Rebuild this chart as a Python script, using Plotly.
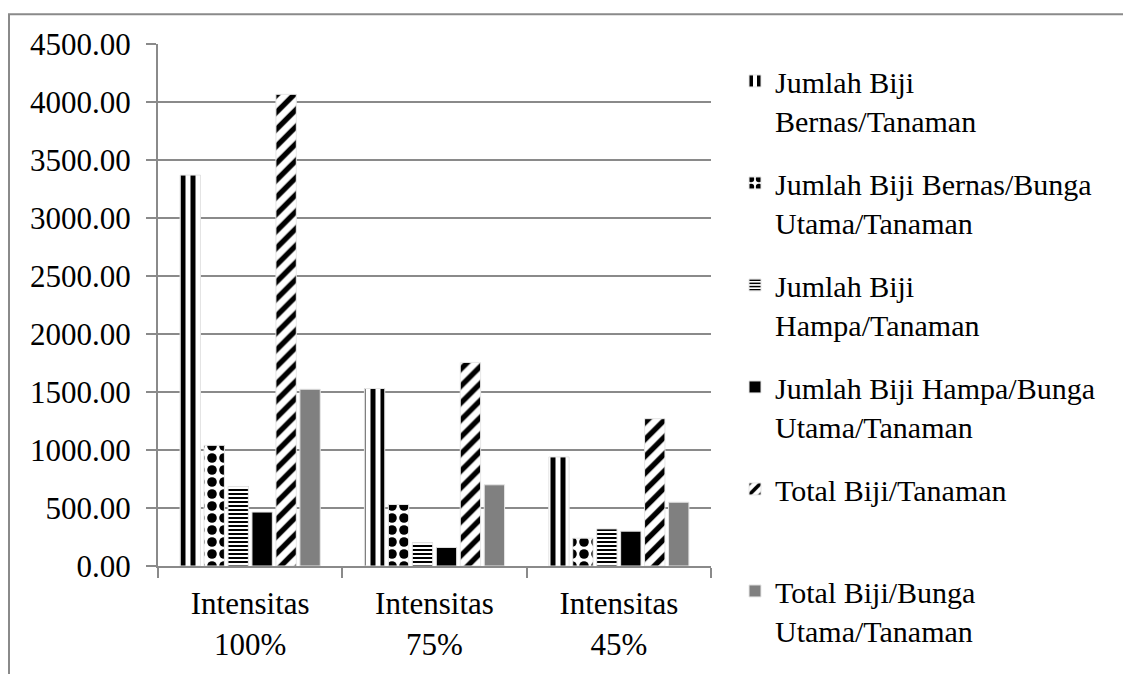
import plotly.graph_objects as go

categories = ["Intensitas<br>100%", "Intensitas<br>75%", "Intensitas<br>45%"]

series_names = [
    "Jumlah Biji<br>Bernas/Tanaman",
    "Jumlah Biji Bernas/Bunga<br>Utama/Tanaman",
    "Jumlah Biji<br>Hampa/Tanaman",
    "Jumlah Biji Hampa/Bunga<br>Utama/Tanaman",
    "Total Biji/Tanaman<br> ",
    "Total Biji/Bunga<br>Utama/Tanaman",
]

bernas_tanaman = [3370, 1530, 940]
bernas_bunga_utama = [1040, 530, 240]
hampa_tanaman = [685, 200, 320]
hampa_bunga_utama = [465, 160, 300]
total_tanaman = [4066, 1755, 1270]
total_bunga_utama = [1524, 700, 550]

values = [bernas_tanaman, bernas_bunga_utama, hampa_tanaman,
          hampa_bunga_utama, total_tanaman, total_bunga_utama]

styles = [
    dict(color="white", pattern=dict(shape="|", fgcolor="black", bgcolor="white", size=10, solidity=0.5, fillmode="replace")),
    dict(color="white", pattern=dict(shape=".", fgcolor="black", bgcolor="white", size=12, solidity=0.5, fillmode="replace")),
    dict(color="white", pattern=dict(shape="-", fgcolor="black", bgcolor="white", size=4, solidity=0.5, fillmode="replace")),
    dict(color="black"),
    dict(color="white", pattern=dict(shape="/", fgcolor="black", bgcolor="white", size=12, solidity=0.45, fillmode="replace")),
    dict(color="#808080"),
]

FONT = "Liberation Serif, Times New Roman, serif"
GRID = "#8a8a8a"

fig = go.Figure()
for i, (name, vals, st) in enumerate(zip(series_names, values, styles)):
    marker = dict(st)
    marker["line"] = dict(color="#e6e6e6", width=1)
    fig.add_trace(go.Bar(
        x=categories, y=vals, name=name, marker=marker,
        legendgroup=f"g{i}",
    ))

# page body has an 8px default margin, so the figure is sized/offset to compensate
fig.update_layout(
    width=1123, height=666,
    margin=dict(l=150, r=420, t=36, b=102),
    paper_bgcolor="white", plot_bgcolor="white",
    barmode="group", bargap=0.22, bargroupgap=0.15,
    font=dict(family=FONT, size=31, color="black"),
    showlegend=True,
    legend=dict(
        x=1.0434, xanchor="left", y=0.979, yanchor="top",
        font=dict(family=FONT, size=30, color="black"),
        valign="top", tracegroupgap=21, maxheight=900,
        bgcolor="rgba(0,0,0,0)",
    ),
    xaxis=dict(
        showline=True, linecolor=GRID, linewidth=2,
        ticks="outside", tickson="boundaries", ticklen=10, tickwidth=2, tickcolor=GRID,
        showgrid=False, tickfont=dict(family=FONT, size=31),
        ticklabelstandoff=9,
    ),
    yaxis=dict(
        range=[0, 4500], dtick=500, tick0=0, tickformat=".2f",
        showline=True, linecolor=GRID, linewidth=2,
        ticks="outside", ticklen=10, tickwidth=2, tickcolor=GRID,
        showgrid=True, gridcolor=GRID, gridwidth=2, zeroline=False,
        tickfont=dict(family=FONT, size=31),
        ticklabelstandoff=9,
    ),
    shapes=[dict(type="rect", xref="paper", yref="paper",
                 x0=-0.26944, x1=2.0, y0=-1.0, y1=1.0568,
                 line=dict(color=GRID, width=2), fillcolor="rgba(0,0,0,0)", layer="below")],
)

fig.write_html("out.html")
